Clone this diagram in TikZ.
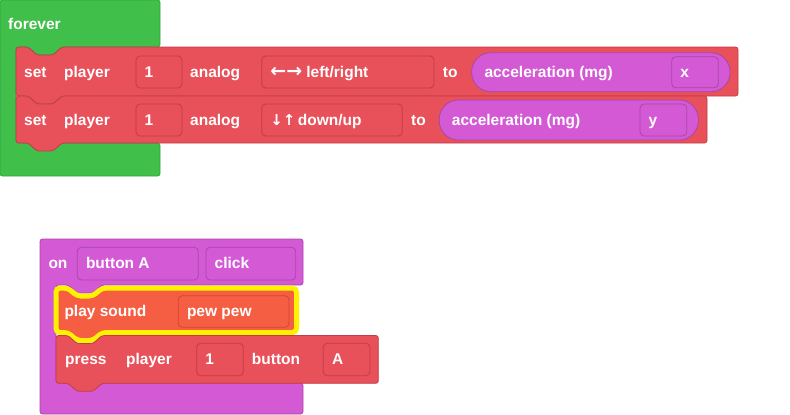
\documentclass[tikz,border=0pt]{standalone}
\usepackage{fontspec}
\setmainfont{Liberation Sans}
\newfontfamily\arrowfont{DejaVu Sans}
\definecolor{loopgreen}{HTML}{40BF4A}
\definecolor{loopedge}{HTML}{32A23C}
\definecolor{ctrlred}{HTML}{E8505A}
\definecolor{ctrledge}{HTML}{C03E47}
\definecolor{evpurple}{HTML}{D35AD4}
\definecolor{evedge}{HTML}{A946AB}
\definecolor{musicorange}{HTML}{F55E42}
\definecolor{musicedge}{HTML}{CF4630}
\definecolor{glow}{HTML}{FFF200}

% statement block with a notch on top and a tab below
\newcommand\stmtpath[4]{(#1,{#2+15}) -- (#1,#2) -- ({#1+12},#2) -- ({#1+21},{#2+8}) -- ({#1+37},{#2+8}) -- ({#1+46},#2) -- (#3,#2) -- (#3,#4) -- ({#1+46},#4) -- ({#1+37},{#4+8}) -- ({#1+21},{#4+8}) -- ({#1+12},#4) -- (#1,#4) -- cycle}
% input field: name, edge colour, x0, y0, x1, y1, text
\newcommand\fld[7]{%
  \draw[field, draw=#2] (#3,#4) rectangle (#5,#6);
  \node[lbl] (#1) at ({#3+8.5},{(#4+#6)/2+5}) {#7};}

\begin{document}
\begin{tikzpicture}[x=1pt,y=-1pt,
  lbl/.style={text=white, font=\fontsize{15.5}{18}\selectfont\bfseries, anchor=base west, inner sep=0pt},
  field/.style={rounded corners=4pt, line width=0.8pt},
  block/.style={rounded corners=2.5pt, line width=0.8pt},
  redblock/.style={block, fill=ctrlred, draw=ctrledge},
  pill/.style={rounded corners=19pt, line width=0.8pt, fill=evpurple, draw=evedge}]
\useasboundingbox (0,0) rectangle (790,415);

% forever loop
\draw[block, fill=loopgreen, draw=loopedge] (0,20) -- (0,0) -- (160,0) -- (160,47) -- (62,47) -- (53,55) -- (37,55) -- (28,47) -- (16,47) -- (16,143) -- (160,143) -- (160,176) -- (0,176) -- cycle;
\node[lbl] (forever) at (8,29.3) {forever};

% set player 1 analog left/right
\draw[redblock] \stmtpath{16}{47}{738}{96};
\node[lbl] (set1) at (24,77) {set};
\node[lbl] (player1) at (64,77) {player};
\fld{num1}{ctrledge}{136}{56}{182}{88}{1}
\node[lbl] (analog1) at (190,77) {analog};
\fld{axis1}{ctrledge}{261.7}{56}{434}{88}{\makebox[36pt][l]{\arrowfont\fontsize{19}{18}\selectfont ←→}left/right}
\node[lbl] (to1) at (442.7,77) {to};
\draw[pill] (471.7,52.7) rectangle (730,91.7);
\node[lbl] (acc1) at (484.3,77) {acceleration (mg)};
\fld{dimx}{evedge}{671.7}{56.7}{718.3}{87.7}{x}

% set player 1 analog down/up
\draw[redblock] \stmtpath{16}{96}{707}{143};
\node[lbl] (set2) at (24,125) {set};
\node[lbl] (player2) at (64,125) {player};
\fld{num2}{ctrledge}{136}{104}{182}{136}{1}
\node[lbl] (analog2) at (190,125) {analog};
\fld{axis2}{ctrledge}{261.7}{104}{402.3}{136}{\makebox[27.5pt][l]{\arrowfont\fontsize{15}{18}\selectfont ↓↑}down/up}
\node[lbl] (to2) at (411,125) {to};
\draw[pill] (439.3,100) rectangle (698.3,140);
\node[lbl] (acc2) at (451.7,125) {acceleration (mg)};
\fld{dimy}{evedge}{640}{104}{686.7}{136}{y}

% on button A click
\draw[block, fill=evpurple, draw=evedge] (40,260) -- (40,239) -- (303,239) -- (303,285) -- (102,285) -- (93,293) -- (77,293) -- (68,285) -- (56,285) -- (56,383) -- (303,383) -- (303,414) -- (40,414) -- cycle;
\node[lbl] (on) at (48.3,268.7) {on};
\fld{btn}{evedge}{77.3}{247.3}{198.3}{280}{button A}
\fld{evt}{evedge}{206}{247.3}{295.7}{280}{click}

% play sound (selected)
\draw[block, fill=musicorange, draw=glow, line width=5pt, rounded corners=4pt] \stmtpath{56}{288}{296.5}{332.5};
\node[lbl] (play) at (64.3,316.5) {play sound};
\fld{snd}{musicedge}{178.3}{295.7}{289}{327.3}{pew pew}

% press player 1 button A
\draw[redblock] \stmtpath{56}{335.5}{378.3}{383.3};
\node[lbl] (press) at (65,364.5) {press};
\node[lbl] (player3) at (126,364.5) {player};
\fld{num3}{ctrledge}{196.7}{343.3}{243.3}{375.7}{1}
\node[lbl] (button) at (251.7,364.5) {button};
\fld{key}{ctrledge}{323.3}{343.3}{370}{375.7}{A}
\end{tikzpicture}
\end{document}
